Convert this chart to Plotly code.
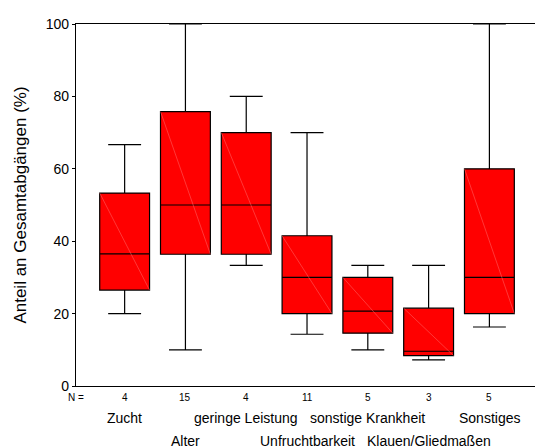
import plotly.graph_objects as go

categories = ["Zucht", "Alter", "geringe Leistung", "Unfruchtbarkeit",
              "sonstige Krankheit", "Klauen/Gliedmaßen", "Sonstiges"]
counts = [4, 15, 4, 11, 5, 3, 5]
lower_whisker = [20.0, 10.0, 33.3, 14.3, 10.0, 7.2, 16.3]
q1_values = [26.5, 36.4, 36.4, 20.0, 14.6, 8.4, 20.0]
medians = [36.5, 50.0, 50.0, 30.0, 20.7, 9.6, 30.0]
q3_values = [53.3, 75.8, 70.0, 41.5, 30.0, 21.5, 60.0]
upper_whisker = [66.7, 100.0, 80.0, 70.0, 33.3, 33.3, 100.0]
y_ticks = [0, 20, 40, 60, 80, 100]

positions = list(range(len(categories)))
box_width = 0.82
FONT = "Liberation Sans, Arial, sans-serif"

fig = go.Figure()
fig.add_trace(go.Box(
    x=positions,
    q1=q1_values, median=medians, q3=q3_values,
    lowerfence=lower_whisker, upperfence=upper_whisker,
    width=box_width,
    whiskerwidth=0.66,
    fillcolor="#ff0000",
    line=dict(color="#000000", width=1.2),
    boxpoints=False,
    hoverinfo="skip",
    showlegend=False,
))

# faint diagonal rendering lines inside each box
for p, lo, hi in zip(positions, q1_values, q3_values):
    fig.add_trace(go.Scatter(
        x=[p - box_width / 2, p + box_width / 2], y=[hi, lo],
        mode="lines", line=dict(color="#ff6e6e", width=0.5),
        hoverinfo="skip", showlegend=False,
    ))

annotations = [dict(x=0, y=0, xref="paper", yref="paper", text="N =",
                    showarrow=False, xanchor="center", yanchor="middle",
                    xshift=-0.5, yshift=-11.5,
                    font=dict(family=FONT, size=10, color="#000"))]
for i, (p, c, cat) in enumerate(zip(positions, counts, categories)):
    annotations.append(dict(x=p, y=0, xref="x", yref="paper", text=str(c),
                            showarrow=False, xanchor="center", yanchor="middle",
                            yshift=-11.5,
                            font=dict(family=FONT, size=10, color="#000")))
    annotations.append(dict(x=p, y=0, xref="x", yref="paper", text=cat,
                            showarrow=False, xanchor="center", yanchor="middle",
                            yshift=-32 if i % 2 == 0 else -55,
                            font=dict(family=FONT, size=14, color="#000")))

fig.update_layout(
    width=535, height=448,
    margin=dict(l=76, r=0, t=24, b=62),
    paper_bgcolor="white", plot_bgcolor="white",
    font=dict(family=FONT, size=14, color="#000"),
    annotations=annotations,
    xaxis=dict(range=[-0.8, 6.75], showticklabels=False, ticks="",
               showgrid=False, zeroline=False, showline=True,
               linecolor="#000", linewidth=1.3, mirror=True),
    yaxis=dict(range=[0, 100], tickvals=y_ticks, ticks="outside", ticklen=3,
               tickcolor="#000", showgrid=False, zeroline=False,
               showline=True, linecolor="#000", linewidth=1.3,
               automargin=False,
               tickfont=dict(family=FONT, size=14),
               title=dict(text="Anteil an Gesamtabgängen (%)",
                          font=dict(family=FONT, size=17), standoff=14)),
)

fig.write_html("out.html",
               config={"displayModeBar": False},
               post_script="document.body.style.margin='0px';"
                           "document.body.style.overflow='hidden';")
